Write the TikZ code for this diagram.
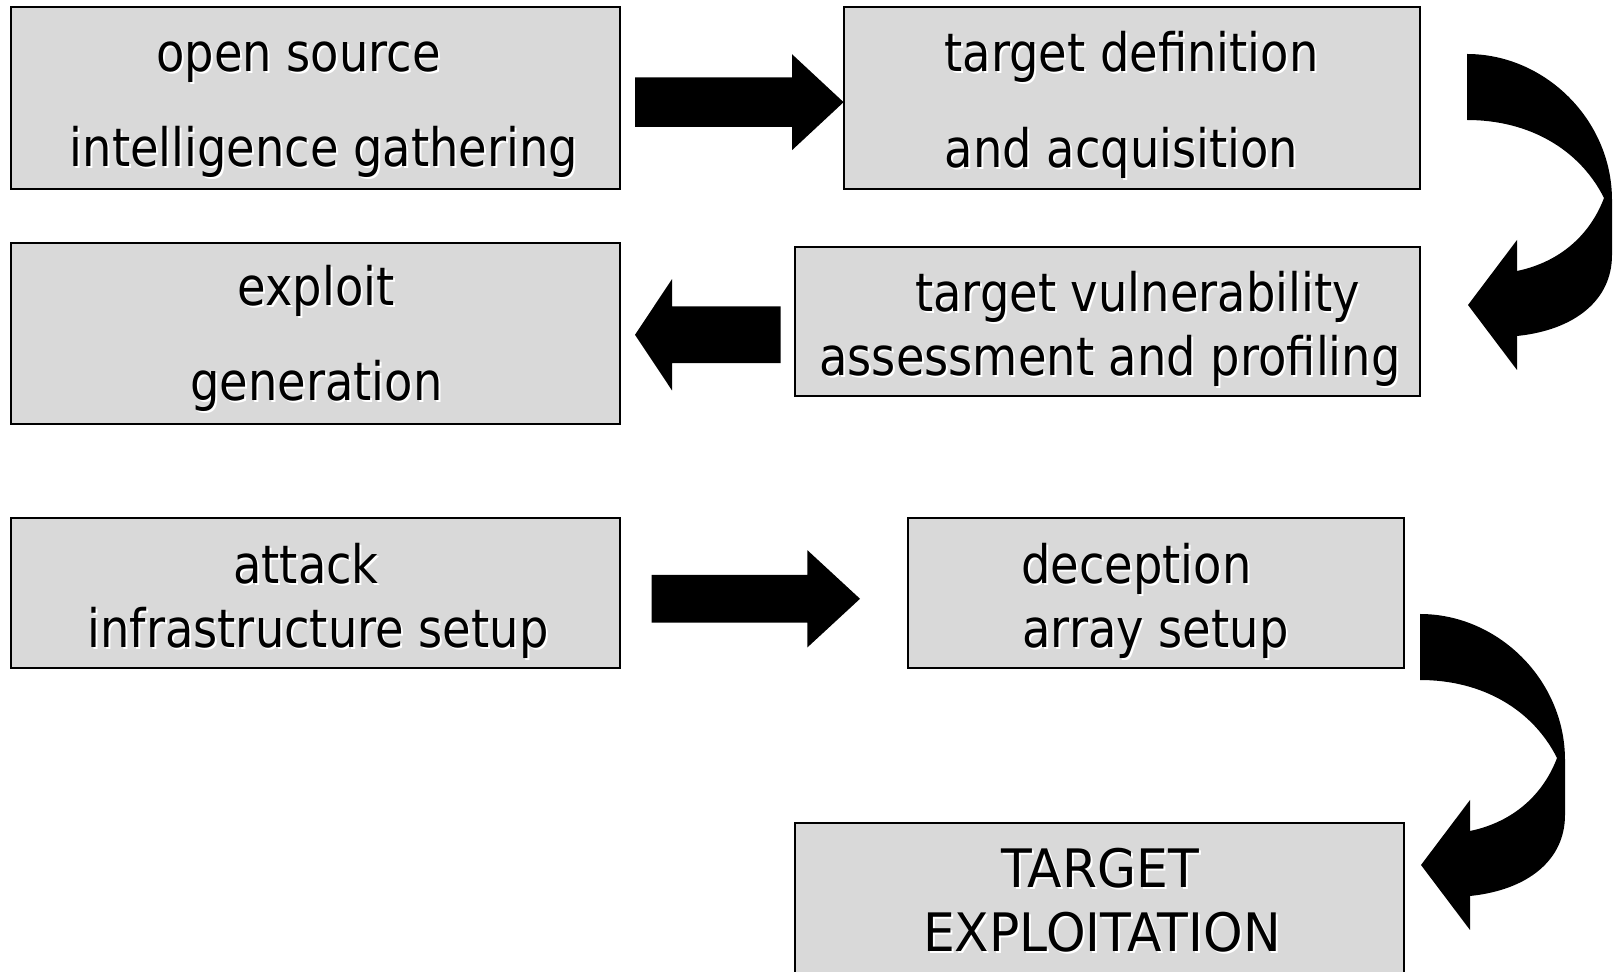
\documentclass[tikz,border=0pt]{standalone}
\usepackage{fontspec}
\usetikzlibrary{fit}
\newfontfamily\diagfont[FakeStretch=0.875]{DejaVu Sans}
\newfontfamily\diagcapsfont[FakeStretch=0.95]{DejaVu Sans}
\definecolor{boxgray}{RGB}{217,217,217}
% text with a light drop shadow
\newcommand\shadowed[1]{\makebox[0pt][l]{\hspace{1pt}\raisebox{-1pt}{\color{white}#1}}#1}
% straight block arrows: tail x, tip x, centre y, shaft half-width, head half-width, head length
\newcommand\rightblock[6]{%
  \fill (#1,#3-#4) -- (#2-#6,#3-#4) -- (#2-#6,#3-#5) -- (#2,#3)
    -- (#2-#6,#3+#5) -- (#2-#6,#3+#4) -- (#1,#3+#4) -- cycle;}
\newcommand\leftblock[6]{%
  \fill (#1,#3-#4) -- (#2+#6,#3-#4) -- (#2+#6,#3-#5) -- (#2,#3)
    -- (#2+#6,#3+#5) -- (#2+#6,#3+#4) -- (#1,#3+#4) -- cycle;}
\tikzset{
  box/.style={draw=black, line width=1pt, fill=boxgray, inner sep=0pt},
  lbl/.style={anchor=base, inner sep=0pt,
    font=\diagfont\fontsize{26.5pt}{30pt}\selectfont},
  capslbl/.style={lbl, font=\diagcapsfont\fontsize{26.5pt}{30pt}\selectfont},
  bend/.pic={
    \fill (1467,54) .. controls (1545,54) and (1612,120) .. (1612,200)
      -- (1612,255) .. controls (1612,300) and (1575,330) .. (1517,336)
      -- (1517,370) -- (1468,305) -- (1517,240) -- (1517,271)
      .. controls (1560,262) and (1590,235) .. (1604,198)
      .. controls (1580,150) and (1530,120) .. (1467,120) -- cycle;
  }
}
\begin{document}
\begin{tikzpicture}[x=0.5pt, y=-0.5pt]
\useasboundingbox (0,0) rectangle (1619,972);

% process boxes
\node[box, fit={(11.4,7.2) (619.5,189)}] (b1) {};
\node[box, fit={(843.6,7.2) (1419.7,189)}] (b2) {};
\node[box, fit={(11.4,242.6) (619.5,424.4)}] (b3) {};
\node[box, fit={(795,246.8) (1419.7,396.5)}] (b4) {};
\node[box, fit={(11.4,518.3) (619.5,668)}] (b5) {};
\node[box, fit={(907.6,518.3) (1404.2,668)}] (b6) {};
\node[box, fit={(795,823) (1404.2,990)}] (b7) {};

% box labels
\node[lbl] (t1a) at (298.5,72) {\shadowed{open source}};
\node[lbl] (t1b) at (324,167) {\shadowed{intelligence gathering}};
\node[lbl] (t2a) at (1131.5,72) {\shadowed{target definition}};
\node[lbl] (t2b) at (1121.5,168) {\shadowed{and acquisition}};
\node[lbl] (t3a) at (316,306) {\shadowed{exploit}};
\node[lbl] (t3b) at (316.5,401) {\shadowed{generation}};
\node[lbl] (t4a) at (1137.5,312) {\shadowed{target vulnerability}};
\node[lbl] (t4b) at (1110,376) {\shadowed{assessment and profiling}};
\node[lbl] (t5a) at (306,584) {\shadowed{attack}};
\node[lbl] (t5b) at (318,648) {\shadowed{infrastructure setup}};
\node[lbl] (t6a) at (1136.5,584) {\shadowed{deception}};
\node[lbl] (t6b) at (1155.5,648) {\shadowed{array setup}};
\node[capslbl] (t7a) at (1100,888) {\shadowed{TARGET}};
\node[capslbl] (t7b) at (1102,952) {\shadowed{EXPLOITATION}};

% straight flow arrows
\rightblock{635}{843.6}{102.2}{24.8}{48}{51.6}
\leftblock{780.6}{635}{334.8}{28.4}{55.6}{37}
\rightblock{651.5}{860}{598.8}{23.8}{48.6}{52.6}

% curved flow arrows down the right side
\pic at (0,0) {bend};
\pic at (-47,560) {bend};
\end{tikzpicture}
\end{document}
